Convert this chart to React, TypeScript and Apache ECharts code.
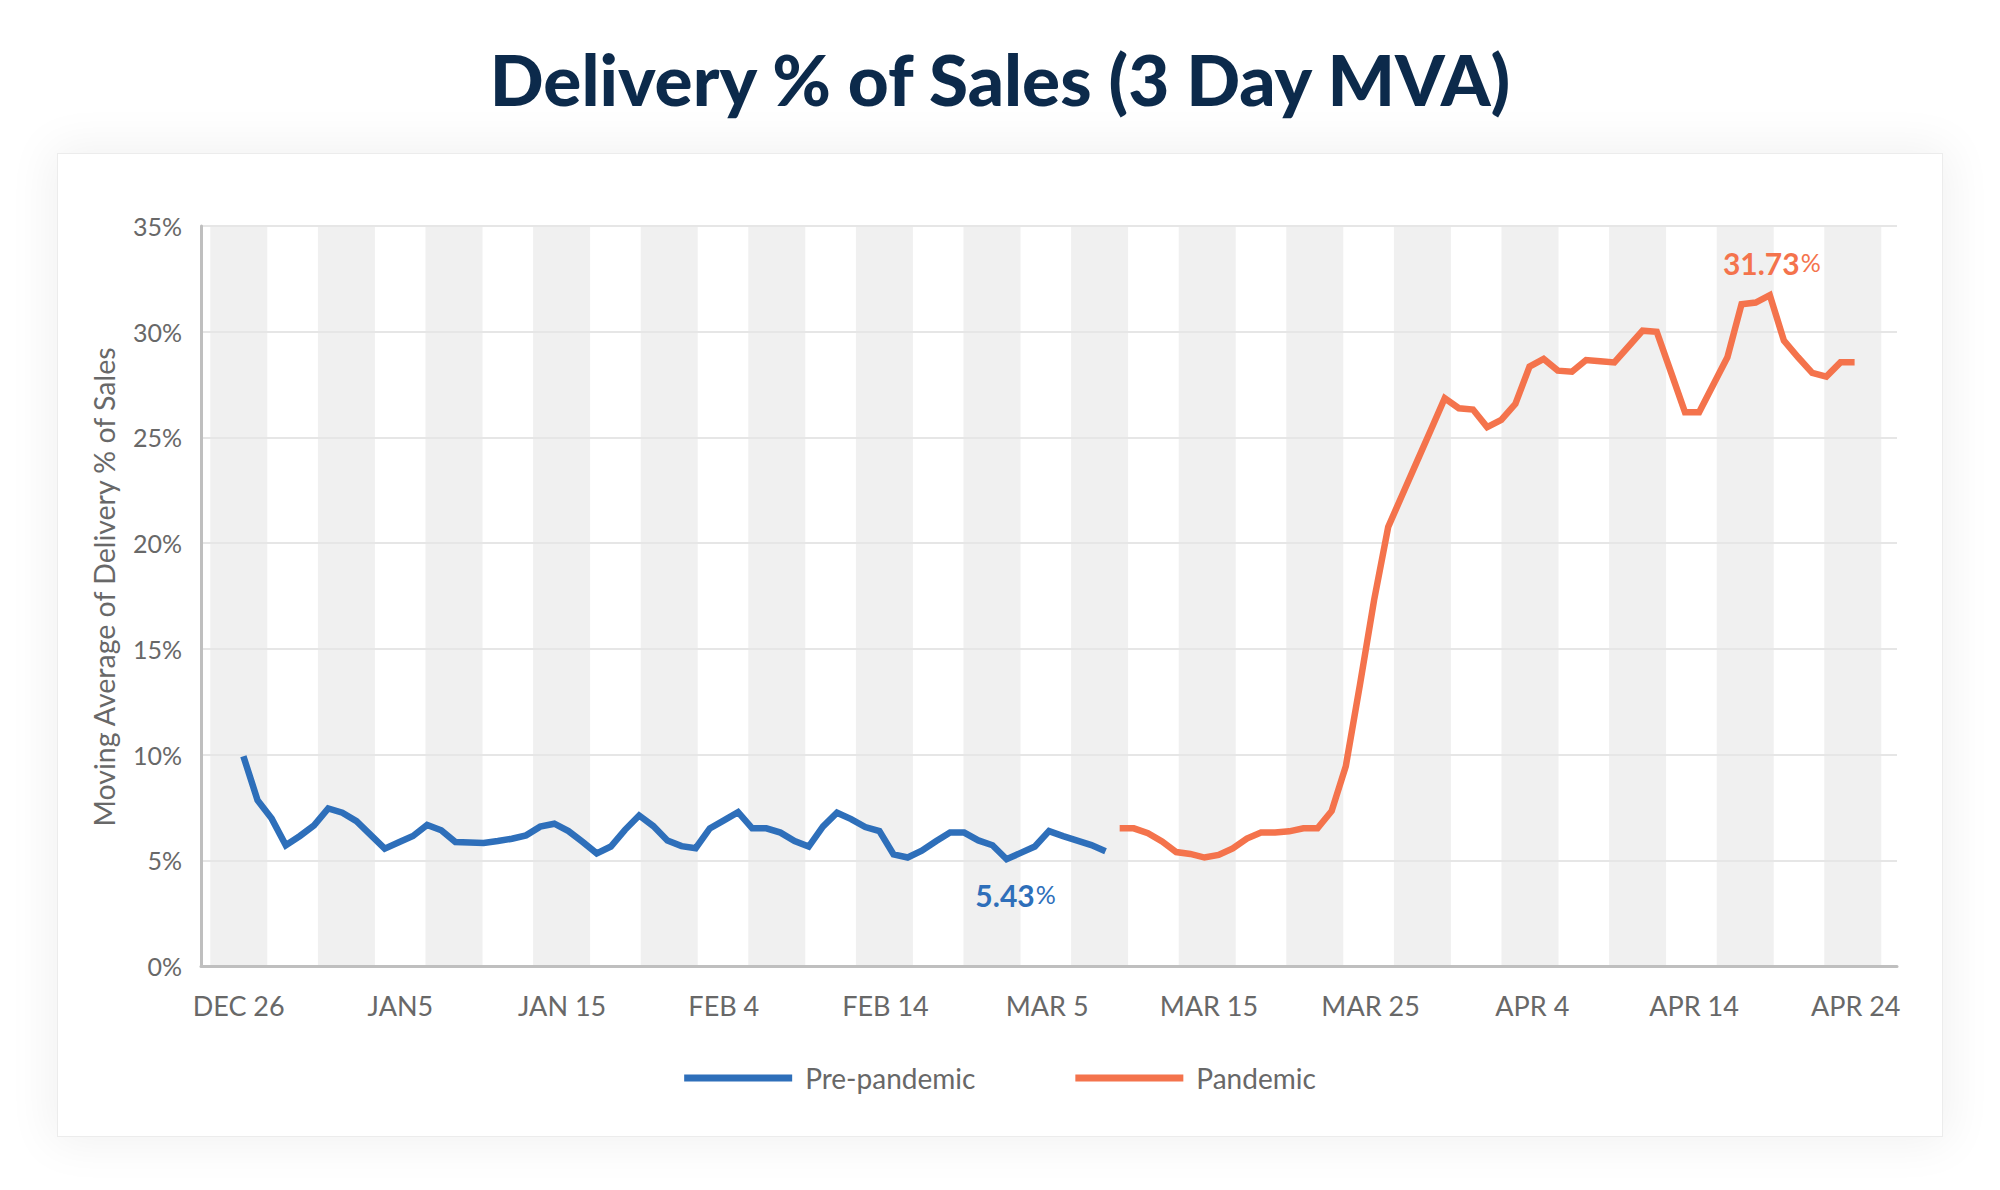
import React, { useEffect, useRef } from 'react';
import * as echarts from 'echarts';

const TITLE = 'Delivery % of Sales (3 Day MVA)';
const Y_NAME = 'Moving Average of Delivery % of Sales';
const SERIES_NAMES = ['Pre-pandemic', 'Pandemic'];
const X_TICK_LABELS = ['DEC 26', 'JAN5', 'JAN 15', 'FEB 4', 'FEB 14', 'MAR 5', 'MAR 15', 'MAR 25', 'APR 4', 'APR 14', 'APR 24'];

// daily categories, Dec 26 .. Apr 24
const FIRST_DAY = new Date(2019, 11, 26);
const DAY_COUNT = 121;
const MONTHS = ['Jan', 'Feb', 'Mar', 'Apr', 'May', 'Jun', 'Jul', 'Aug', 'Sep', 'Oct', 'Nov', 'Dec'];
const DAYS: string[] = [];
for (let i = 0; i < DAY_COUNT; i++) {
  const d = new Date(FIRST_DAY.getFullYear(), FIRST_DAY.getMonth(), FIRST_DAY.getDate() + i);
  DAYS.push(`${MONTHS[d.getMonth()]} ${d.getDate()}`);
}

// Pre-pandemic 3-day moving average (%), starting at day index 3
const PRE_START = 3;
const PRE_PANDEMIC = [
  9.92, 7.84, 6.97, 5.71, 6.15, 6.65, 7.45,
  7.25, 6.85, 6.2, 5.55, 5.85, 6.15, 6.67, 6.42, 5.86, 5.84,
  5.82, 5.91, 6.02, 6.18, 6.59, 6.73, 6.38, 5.87, 5.33, 5.65,
  6.44, 7.12, 6.62, 5.94, 5.67, 5.57, 6.51, 6.89, 7.28, 6.51,
  6.51, 6.31, 5.91, 5.65, 6.59, 7.25, 6.95, 6.57, 6.38, 5.28,
  5.13, 5.45, 5.9, 6.31, 6.31, 5.94, 5.71, 5.05, 5.35, 5.65,
  6.38, 6.14, 5.93, 5.72, 5.43,
];

// Pandemic 3-day moving average (%), starting at day index 65
const PANDEMIC_START = 65;
const PANDEMIC = [
  6.51, 6.51, 6.28, 5.89, 5.39,
  5.3, 5.13, 5.25, 5.56, 6.03, 6.31, 6.31, 6.37, 6.51, 6.51,
  7.33, 9.45, 13.3, 17.3, 20.77, 22.29, 23.81, 25.33, 26.85, 26.38,
  26.32, 25.49, 25.83, 26.59, 28.35, 28.71, 28.16, 28.11, 28.66, 28.6,
  28.55, 29.3, 30.05, 30.0, 28.1, 26.19, 26.19, 27.49, 28.79, 31.3,
  31.38, 31.73, 29.58, 28.79, 28.05, 27.88, 28.55, 28.55,
];

// background shading columns
const BANDS = [35, 35, 35, 35, 35, 35, 35, 35, 35, 35, 35, 35, 35, 35, 35, 35];

const BLUE = '#2e6fba';
const ORANGE = '#f4734c';
const GREY_TEXT = '#686868';
const FONT = 'Lato';

function pad(values: number[], start: number): (number | null)[] {
  const out: (number | null)[] = new Array(DAY_COUNT).fill(null);
  values.forEach((v, i) => { out[start + i] = v; });
  return out;
}

function pctLabel(color: string) {
  return {
    show: true,
    formatter: (p: any) => `{n|${Number(p.value).toFixed(2)}}{p|%}`,
    rich: {
      n: { fontSize: 30, fontWeight: 'bold', color, fontFamily: FONT },
      p: { fontSize: 25, fontWeight: 'normal', color, fontFamily: FONT, padding: [0, 0, 2, 1] },
    },
  };
}

export default function App() {
  const ref = useRef<HTMLDivElement>(null);

  useEffect(() => {
    if (!ref.current) return;
    const chart = echarts.init(ref.current, undefined, { renderer: 'svg' });
    const lastPre = PRE_PANDEMIC.length - 1;
    chart.setOption({
      animation: false,
      title: {
        text: TITLE,
        left: 'center',
        top: 38,
        textStyle: { fontSize: 71, fontWeight: 900, color: '#0c2a4b', fontFamily: FONT },
      },
      legend: {
        data: SERIES_NAMES,
        left: 'center',
        top: 1059,
        icon: 'rect',
        itemWidth: 108,
        itemHeight: 7,
        itemGap: 100,
        textStyle: { fontSize: 28, color: GREY_TEXT, fontFamily: FONT, padding: [0, 0, 0, 8] },
      },
      grid: [
        { left: 201, right: 103, top: 226, bottom: 224 },
        { left: 185, right: 93.4, top: 226, bottom: 224 },
      ],
      xAxis: [
        {
          type: 'category',
          gridIndex: 0,
          data: DAYS,
          boundaryGap: false,
          z: 3,
          axisLine: { onZero: false, lineStyle: { color: '#bfbfbf', width: 3 } },
          axisTick: { show: false },
          axisLabel: { show: false },
          splitLine: { show: false },
        },
        {
          type: 'value',
          gridIndex: 0,
          position: 'bottom',
          min: -0.2331,
          max: 10.2554,
          axisLine: { show: false, onZero: false },
          axisTick: { show: false },
          splitLine: { show: false },
          axisLabel: {
            customValues: X_TICK_LABELS.map((_, i) => i),
            formatter: (v: number) => X_TICK_LABELS[Math.round(v)] ?? '',
            fontSize: 27,
            color: GREY_TEXT,
            fontFamily: FONT,
            margin: 26,
          },
        },
        {
          type: 'category',
          gridIndex: 1,
          data: BANDS.map((_, i) => i),
          boundaryGap: true,
          show: false,
        },
      ],
      yAxis: [
        {
          type: 'value',
          gridIndex: 0,
          min: 0,
          max: 35,
          interval: 5,
          z: 3,
          name: Y_NAME,
          nameLocation: 'middle',
          nameGap: 83,
          nameTextStyle: { fontSize: 28.5, color: GREY_TEXT, fontFamily: FONT, padding: [0, 0, 0, 18] },
          axisLine: { show: true, onZero: false, lineStyle: { color: '#bfbfbf', width: 3 } },
          axisTick: { show: false },
          axisLabel: { formatter: '{value}%', fontSize: 25, color: GREY_TEXT, fontFamily: FONT, margin: 19 },
          splitLine: { lineStyle: { color: '#e6e6e6', width: 2 } },
        },
        { type: 'value', gridIndex: 1, min: 0, max: 35, show: false },
      ],
      series: [
        {
          type: 'bar',
          xAxisIndex: 2,
          yAxisIndex: 1,
          data: BANDS,
          barWidth: 57,
          silent: true,
          z: 1,
          itemStyle: { color: '#f0f0f0' },
        },
        {
          name: SERIES_NAMES[0],
          type: 'line',
          xAxisIndex: 0,
          yAxisIndex: 0,
          data: pad(PRE_PANDEMIC, PRE_START),
          showSymbol: false,
          symbol: 'none',
          z: 5,
          color: BLUE,
          lineStyle: { color: BLUE, width: 6.5, join: 'miter', cap: 'butt' },
          markPoint: {
            symbol: 'circle',
            symbolSize: 1,
            itemStyle: { color: 'rgba(0,0,0,0)' },
            label: { ...pctLabel(BLUE), offset: [-90, 44] },
            data: [{ coord: [PRE_START + lastPre, PRE_PANDEMIC[lastPre]], value: PRE_PANDEMIC[lastPre] }],
          },
        },
        {
          name: SERIES_NAMES[1],
          type: 'line',
          xAxisIndex: 0,
          yAxisIndex: 0,
          data: pad(PANDEMIC, PANDEMIC_START),
          showSymbol: false,
          symbol: 'none',
          z: 5,
          color: ORANGE,
          lineStyle: { color: ORANGE, width: 6.5, join: 'miter', cap: 'butt' },
          markPoint: {
            symbol: 'circle',
            symbolSize: 1,
            itemStyle: { color: 'rgba(0,0,0,0)' },
            label: { ...pctLabel(ORANGE), offset: [2, -32] },
            data: [{ type: 'max' }],
          },
        },
      ],
    });
    return () => chart.dispose();
  }, []);

  return (
    <div style={{ position: 'absolute', left: 0, top: 0, width: 2000, height: 1190, background: '#ffffff', overflow: 'hidden' }}>
      <div
        style={{
          position: 'absolute',
          left: 57,
          top: 153,
          width: 1886,
          height: 984,
          background: '#ffffff',
          border: '1px solid #ececec',
          boxSizing: 'border-box',
          boxShadow: '0 0 45px 6px rgba(0,0,0,0.06)',
        }}
      />
      <div ref={ref} style={{ position: 'absolute', left: 0, top: 0, width: 2000, height: 1190 }} />
    </div>
  );
}
